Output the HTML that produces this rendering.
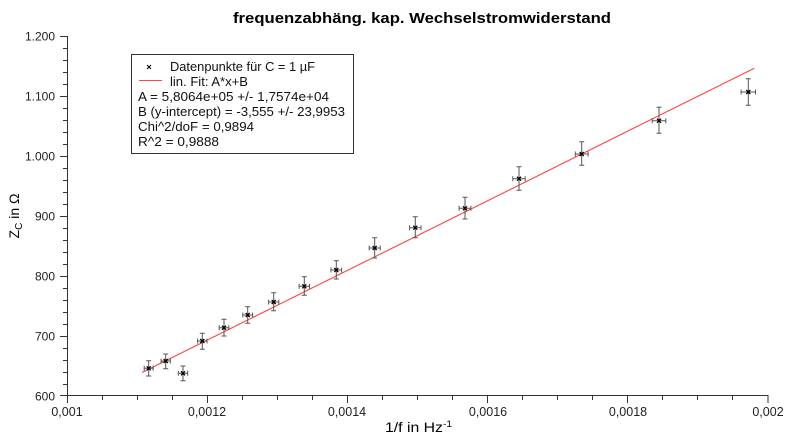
<!DOCTYPE html>
<html><head><meta charset="utf-8"><style>
html,body{margin:0;padding:0;background:#fff;}
svg{display:block;font-family:"Liberation Sans","DejaVu Sans",sans-serif;}
</style></head><body>
<svg width="800" height="445" viewBox="0 0 800 445" xmlns="http://www.w3.org/2000/svg">
<rect width="800" height="445" fill="#fff"/>
<text x="233" y="23" font-size="15" font-weight="bold" fill="#000" textLength="378" lengthAdjust="spacingAndGlyphs">frequenzabhäng. kap. Wechselstromwiderstand</text>

<!-- axes -->
<g stroke="#333" stroke-width="1" fill="none">
<path d="M67.5 36V396M67 395.5H768.5"/>
<path d="M67.5 396v7M207.5 396v7M347.5 396v7M487.5 396v7M627.5 396v7M768 396v7"/>
<path d="M102.5 396v4M137.5 396v4M172.5 396v4M242.5 396v4M277.5 396v4M312.5 396v4M382.5 396v4M417.5 396v4M452.5 396v4M522.5 396v4M557.5 396v4M592.5 396v4M662.5 396v4M697.5 396v4M732.5 396v4"/>
<path d="M67 36.5h-7M67 96.5h-7M67 156.5h-7M67 216.5h-7M67 276.5h-7M67 336.5h-7M67 395.5h-7"/>
<path d="M67 48.5h-4M67 60.5h-4M67 72.5h-4M67 84.5h-4M67 108.5h-4M67 120.5h-4M67 132.5h-4M67 144.5h-4M67 168.5h-4M67 180.5h-4M67 192.5h-4M67 204.5h-4M67 228.5h-4M67 240.5h-4M67 252.5h-4M67 264.5h-4M67 288.5h-4M67 300.5h-4M67 312.5h-4M67 324.5h-4M67 348.5h-4M67 360.5h-4M67 372.5h-4M67 384.5h-4"/>
</g>

<!-- y tick labels -->
<g font-size="12" fill="#222" text-anchor="end">
<text x="55" y="40.5">1.200</text>
<text x="55" y="100.5">1.100</text>
<text x="55" y="160.5">1.000</text>
<text x="55" y="220.5">900</text>
<text x="55" y="280.5">800</text>
<text x="55" y="340.5">700</text>
<text x="55" y="400.5">600</text>
</g>
<!-- x tick labels -->
<g font-size="12.5" fill="#222" text-anchor="middle">
<text x="67" y="416">0,001</text>
<text x="207" y="416">0,0012</text>
<text x="347" y="416">0,0014</text>
<text x="488" y="416">0,0016</text>
<text x="628" y="416">0,0018</text>
<text x="768" y="416">0,002</text>
</g>

<!-- axis titles -->
<text x="385" y="432" font-size="14" fill="#000" textLength="67" lengthAdjust="spacingAndGlyphs">1/f in Hz<tspan font-size="9" dy="-5">-1</tspan></text>
<text transform="translate(19,216) rotate(-90)" font-size="14" fill="#000" text-anchor="middle">Z<tspan font-size="10" dy="3">C</tspan><tspan dy="-3"> in Ω</tspan></text>

<!-- fit line -->
<line x1="142" y1="372.5" x2="754.3" y2="68.2" stroke="#ff4545" stroke-width="1.1"/>

<!-- data points -->
<g stroke="#555" stroke-width="1" fill="none">
<g transform="translate(148.7,368.3)"><path d="M0 -7.6V7.7M-2.5 -7.6H2.5M-2.5 7.7H2.5M-4.5 0H4.5M-4.5 -2.5V2.5M4.5 -2.5V2.5"/></g>
<g transform="translate(165.7,361)"><path d="M0 -7V7.7M-2.5 -7H2.5M-2.5 7.7H2.5M-4.6 0H4.6M-4.6 -2.5V2.5M4.6 -2.5V2.5"/></g>
<g transform="translate(183,373.3)"><path d="M0 -7.3V7.4M-2.5 -7.3H2.5M-2.5 7.4H2.5M-4.7 0H4.7M-4.7 -2.5V2.5M4.7 -2.5V2.5"/></g>
<g transform="translate(202.3,341)"><path d="M0 -7.7V8.3M-2.5 -7.7H2.5M-2.5 8.3H2.5M-4.7 0H4.7M-4.7 -2.5V2.5M4.7 -2.5V2.5"/></g>
<g transform="translate(224,327.7)"><path d="M0 -8.4V8.3M-2.5 -8.4H2.5M-2.5 8.3H2.5M-4.8 0H4.8M-4.8 -2.5V2.5M4.8 -2.5V2.5"/></g>
<g transform="translate(247.7,315)"><path d="M0 -8.3V8.3M-2.5 -8.3H2.5M-2.5 8.3H2.5M-4.9 0H4.9M-4.9 -2.5V2.5M4.9 -2.5V2.5"/></g>
<g transform="translate(273.7,302)"><path d="M0 -9.3V8.7M-2.5 -9.3H2.5M-2.5 8.7H2.5M-5.1 0H5.1M-5.1 -2.5V2.5M5.1 -2.5V2.5"/></g>
<g transform="translate(304.3,286.3)"><path d="M0 -9.6V9M-2.5 -9.6H2.5M-2.5 9H2.5M-5.2 0H5.2M-5.2 -2.5V2.5M5.2 -2.5V2.5"/></g>
<g transform="translate(336.3,270)"><path d="M0 -9.3V9M-2.5 -9.3H2.5M-2.5 9H2.5M-5.3 0H5.3M-5.3 -2.5V2.5M5.3 -2.5V2.5"/></g>
<g transform="translate(374.7,248)"><path d="M0 -10.3V10M-2.5 -10.3H2.5M-2.5 10H2.5M-5.5 0H5.5M-5.5 -2.5V2.5M5.5 -2.5V2.5"/></g>
<g transform="translate(415.3,227.7)"><path d="M0 -11V10M-2.5 -11H2.5M-2.5 10H2.5M-5.7 0H5.7M-5.7 -2.5V2.5M5.7 -2.5V2.5"/></g>
<g transform="translate(465,208.3)"><path d="M0 -11V10.7M-2.5 -11H2.5M-2.5 10.7H2.5M-5.9 0H5.9M-5.9 -2.5V2.5M5.9 -2.5V2.5"/></g>
<g transform="translate(519,178.7)"><path d="M0 -12V11.6M-2.5 -12H2.5M-2.5 11.6H2.5M-6.2 0H6.2M-6.2 -2.5V2.5M6.2 -2.5V2.5"/></g>
<g transform="translate(581.7,154)"><path d="M0 -12.3V11.3M-2.5 -12.3H2.5M-2.5 11.3H2.5M-6.4 0H6.4M-6.4 -2.5V2.5M6.4 -2.5V2.5"/></g>
<g transform="translate(659,120.7)"><path d="M0 -13.4V12.6M-2.5 -13.4H2.5M-2.5 12.6H2.5M-6.8 0H6.8M-6.8 -2.5V2.5M6.8 -2.5V2.5"/></g>
<g transform="translate(748.3,92)"><path d="M0 -13.3V13.3M-2.5 -13.3H2.5M-2.5 13.3H2.5M-7.2 0H7.2M-7.2 -2.5V2.5M7.2 -2.5V2.5"/></g>
</g>
<g stroke="#000" stroke-width="1.3" fill="none">
<path d="M146.7 366.3l4 4m0 -4l-4 4"/>
<path d="M163.7 359l4 4m0 -4l-4 4"/>
<path d="M181 371.3l4 4m0 -4l-4 4"/>
<path d="M200.3 339l4 4m0 -4l-4 4"/>
<path d="M222 325.7l4 4m0 -4l-4 4"/>
<path d="M245.7 313l4 4m0 -4l-4 4"/>
<path d="M271.7 300l4 4m0 -4l-4 4"/>
<path d="M302.3 284.3l4 4m0 -4l-4 4"/>
<path d="M334.3 268l4 4m0 -4l-4 4"/>
<path d="M372.7 246l4 4m0 -4l-4 4"/>
<path d="M413.3 225.7l4 4m0 -4l-4 4"/>
<path d="M463 206.3l4 4m0 -4l-4 4"/>
<path d="M517 176.7l4 4m0 -4l-4 4"/>
<path d="M579.7 152l4 4m0 -4l-4 4"/>
<path d="M657 118.7l4 4m0 -4l-4 4"/>
<path d="M746.3 90l4 4m0 -4l-4 4"/>
</g>

<!-- legend -->
<rect x="131.5" y="54.5" width="222" height="99" fill="#fff" stroke="#333" stroke-width="1"/>
<path d="M147 65l4 4m0 -4l-4 4" stroke="#000" stroke-width="1" fill="none"/>
<line x1="139" y1="80.5" x2="162" y2="80.5" stroke="#ff4545" stroke-width="1.1"/>
<g font-size="13" fill="#111" lengthAdjust="spacingAndGlyphs">
<text x="170" y="71" textLength="145" lengthAdjust="spacingAndGlyphs">Datenpunkte für C = 1 µF</text>
<text x="170" y="86" textLength="78" lengthAdjust="spacingAndGlyphs">lin. Fit: A*x+B</text>
<text x="138" y="101" textLength="191" lengthAdjust="spacingAndGlyphs">A = 5,8064e+05 +/- 1,7574e+04</text>
<text x="138" y="116" textLength="207" lengthAdjust="spacingAndGlyphs">B (y-intercept) = -3,555 +/- 23,9953</text>
<text x="138" y="131" textLength="116" lengthAdjust="spacingAndGlyphs">Chi^2/doF = 0,9894</text>
<text x="138" y="146" textLength="81" lengthAdjust="spacingAndGlyphs">R^2 = 0,9888</text>
</g>
</svg>
</body></html>
